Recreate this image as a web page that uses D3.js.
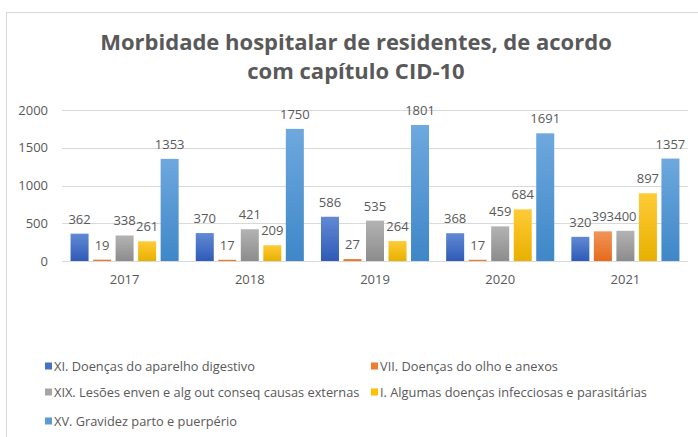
<!DOCTYPE html>
<html>
<head>
<meta charset="utf-8">
<script src="https://cdn.jsdelivr.net/npm/d3@7"></script>
<style>
    html, body { margin: 0; padding: 0; background: #fff; }
    svg { display: block; font-family: "Open Sans", "Liberation Sans", sans-serif; }
</style>
</head>
<body>
<div id="chart"></div>
<script>
(function () {

    // Data
    var years = ['2017', '2018', '2019', '2020', '2021'];
    var seriesNames = [
        'XI. Doenças do aparelho digestivo',
        'VII. Doenças do olho e anexos',
        'XIX. Lesões enven e alg out conseq causas externas',
        'I. Algumas doenças infecciosas e parasitárias',
        'XV. Gravidez parto e puerpério'
    ];
    var digestivo = [362, 370, 586, 368, 320];
    var olho = [19, 17, 27, 17, 393];
    var lesoes = [338, 421, 535, 459, 400];
    var infecciosas = [261, 209, 264, 684, 897];
    var gravidez = [1353, 1750, 1801, 1691, 1357];
    var yTicks = [0, 500, 1000, 1500, 2000];

    var seriesValues = [digestivo, olho, lesoes, infecciosas, gravidez];

    // colours: [solid, top of gradient, bottom of gradient]
    var colors = [
        ['#4472C4', '#6189d4', '#2f5bb7'],
        ['#ED7D31', '#f1955a', '#e66a1c'],
        ['#A5A5A5', '#b3b3b3', '#8c8c8c'],
        ['#FFC000', '#ffcb36', '#e8b000'],
        ['#5B9BD5', '#6ea8de', '#3f87c8']
    ];

    var width = 698, height = 437;
    var textColor = '#595959';

    var svg = d3.select('#chart')
        .append('svg')
        .attr('width', width)
        .attr('height', height);

    // gradients
    var defs = svg.append('defs');
    colors.forEach(function (c, i) {
        var g = defs.append('linearGradient')
            .attr('id', 'grad' + i)
            .attr('x1', 0).attr('y1', 0)
            .attr('x2', 0).attr('y2', 1);
        g.append('stop').attr('offset', '0%').attr('stop-color', c[1]);
        g.append('stop').attr('offset', '100%').attr('stop-color', c[2]);
    });

    // chart border
    svg.append('rect')
        .attr('x', 6.5).attr('y', 12.5)
        .attr('width', 720).attr('height', 440)
        .attr('fill', '#fff')
        .attr('stroke', '#d9d9d9');

    // title
    var title = svg.append('text')
        .attr('text-anchor', 'middle')
        .attr('fill', textColor)
        .attr('font-size', 22)
        .attr('font-weight', 'bold');
    title.append('tspan').attr('x', 356).attr('y', 50)
        .text('Morbidade hospitalar de residentes, de acordo');
    title.append('tspan').attr('x', 356).attr('y', 79)
        .text('com capítulo CID-10');

    // scales
    var x = d3.scaleBand()
        .domain(years)
        .range([62, 688]);

    var xs = d3.scaleBand()
        .domain(d3.range(seriesNames.length))
        .range([0, x.bandwidth()])
        .paddingInner(0.2)
        .paddingOuter(0.38);

    var y = d3.scaleLinear()
        .domain([0, 2000])
        .range([261, 110]);

    // gridlines
    svg.append('g')
        .selectAll('line')
        .data(yTicks)
        .enter()
        .append('line')
        .attr('x1', 62).attr('x2', 688)
        .attr('y1', function (d) { return Math.round(y(d)) + 0.5; })
        .attr('y2', function (d) { return Math.round(y(d)) + 0.5; })
        .attr('stroke', '#d9d9d9');

    // y axis labels
    var yAxis = svg.append('g')
        .attr('transform', 'translate(56,0)')
        .call(d3.axisLeft(y).tickValues(yTicks).tickFormat(d3.format('d')).tickSize(0).tickPadding(8));
    yAxis.select('.domain').remove();
    yAxis.selectAll('text')
        .attr('fill', textColor)
        .attr('font-size', 13)
        .attr('font-family', '"Open Sans", sans-serif');

    // x axis labels
    var xAxis = svg.append('g')
        .attr('transform', 'translate(0,' + 261 + ')')
        .call(d3.axisBottom(x).tickSize(0).tickPadding(14));
    xAxis.select('.domain').remove();
    xAxis.selectAll('text')
        .attr('fill', textColor)
        .attr('font-size', 13)
        .attr('font-family', '"Open Sans", sans-serif');

    // bars
    var groups = svg.append('g')
        .selectAll('g')
        .data(years)
        .enter()
        .append('g')
        .attr('transform', function (d) { return 'translate(' + x(d) + ',0)'; });

    var cells = groups.selectAll('g')
        .data(function (d, yi) {
            return seriesValues.map(function (vals, si) {
                return { s: si, v: vals[yi] };
            });
        })
        .enter()
        .append('g');

    cells.append('rect')
        .attr('x', function (d) { return xs(d.s); })
        .attr('y', function (d) { return y(d.v); })
        .attr('width', xs.bandwidth())
        .attr('height', function (d) { return y(0) - y(d.v); })
        .attr('fill', function (d) { return 'url(#grad' + d.s + ')'; });

    cells.append('text')
        .attr('x', function (d) { return xs(d.s) + xs.bandwidth() / 2; })
        .attr('y', function (d) { return y(d.v) - 10; })
        .attr('text-anchor', 'middle')
        .attr('fill', textColor)
        .attr('font-size', 13)
        .text(function (d) { return d.v; });

    // legend
    var legendPos = [[45, 366], [371, 366], [45, 392], [371, 392], [45, 421]];
    var legend = svg.append('g')
        .selectAll('g')
        .data(seriesNames)
        .enter()
        .append('g')
        .attr('transform', function (d, i) {
            return 'translate(' + legendPos[i][0] + ',' + legendPos[i][1] + ')';
        });

    legend.append('rect')
        .attr('x', 0).attr('y', -3.5)
        .attr('width', 7).attr('height', 7)
        .attr('fill', function (d, i) { return colors[i][0]; });

    legend.append('text')
        .attr('x', 9)
        .attr('y', 4.5)
        .attr('fill', textColor)
        .attr('font-size', 12.8)
        .text(function (d) { return d; });

})();
</script>
</body>
</html>
